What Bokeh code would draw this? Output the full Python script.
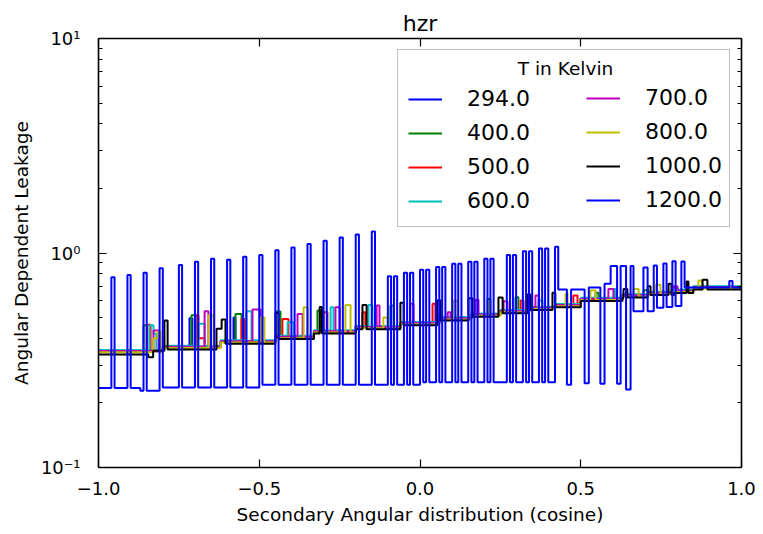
from bokeh.plotting import figure
from bokeh.models import (Range1d, FixedTicker, LogAxis, LinearAxis, Legend,
                          LegendItem, Label, CustomJSTickFormatter)
from bokeh.embed import file_html
from bokeh.resources import INLINE

FONT = "DejaVu Sans"

# ---------------- data ----------------
temps = ["294.0", "400.0", "500.0", "600.0", "700.0", "800.0", "1000.0", "1200.0"]
colors = ["#0000ff", "#008000", "#ff0000", "#00bfbf", "#bf00bf", "#bfbf00", "#000000", "#0000ff"]
# small vertical offset of each series' floor relative to the common floor
floor_scale = [1.0, 1.008, 1.0, 1.015, 1.004, 0.99, 0.98, 1.0]

x_ticks = [-1.0, -0.5, 0.0, 0.5, 1.0]
x_tick_labels = ["\u22121.0", "\u22120.5", "0.0", "0.5", "1.0"]
y_ticks = [0.1, 1.0, 10.0]
y_tick_labels = ["10\u207b\u00b9", "10\u2070", "10\u00b9"]
y_minor_ticks = [0.2, 0.3, 0.4, 0.5, 0.6, 0.7, 0.8, 0.9, 2, 3, 4, 5, 6, 7, 8, 9]

# common floor of the smooth series (step starts, levels)
floor_x = [-1.0, -0.80, -0.62, -0.45, -0.33, -0.20, -0.06, 0.06, 0.16, 0.25,
           0.34, 0.42, 0.50, 0.63, 0.71, 0.79, 0.85]
floor_y = [0.348, 0.364, 0.386, 0.405, 0.43, 0.45, 0.47, 0.495, 0.515, 0.535,
           0.553, 0.57, 0.61, 0.633, 0.65, 0.665, 0.69]

# local bumps (x from, x to, level) of each temperature
bumps_294 = [(-0.717, -0.708, 0.496), (-0.580, -0.574, 0.50)]
bumps_400 = [(-0.860, -0.850, 0.46), (-0.711, -0.698, 0.512), (-0.574, -0.555, 0.52),
             (-0.449, -0.434, 0.534), (-0.319, -0.309, 0.54), (-0.092, -0.082, 0.569),
             (0.210, 0.219, 0.611), (0.297, 0.306, 0.622), (0.546, 0.555, 0.652),
             (0.695, 0.708, 0.67)]
bumps_500 = [(-0.848, -0.838, 0.463), (-0.698, -0.689, 0.512), (-0.689, -0.670, 0.40),
             (-0.555, -0.546, 0.493), (-0.428, -0.409, 0.493), (-0.300, -0.288, 0.53),
             (-0.179, -0.170, 0.53), (0.039, 0.048, 0.58), (0.313, 0.322, 0.60),
             (0.477, 0.490, 0.633), (0.785, 0.800, 0.69)]
bumps_600 = [(-0.841, -0.829, 0.46), (-0.829, -0.820, 0.42), (-0.689, -0.670, 0.468),
             (-0.540, -0.524, 0.535), (-0.412, -0.393, 0.476), (-0.278, -0.269, 0.559),
             (-0.160, -0.148, 0.573), (0.369, 0.381, 0.60), (0.602, 0.608, 0.68)]
bumps_700 = [(-0.829, -0.813, 0.435), (-0.670, -0.658, 0.535), (-0.521, -0.496, 0.545),
             (-0.381, -0.365, 0.52), (-0.263, -0.250, 0.559), (-0.135, -0.126, 0.569),
             (-0.030, -0.020, 0.58), (0.086, 0.095, 0.53), (0.173, 0.182, 0.605),
             (0.260, 0.272, 0.596), (0.359, 0.369, 0.633), (0.586, 0.602, 0.68),
             (0.785, 0.801, 0.70)]
bumps_800 = [(-0.829, -0.816, 0.40), (-0.816, -0.807, 0.43), (-0.658, -0.642, 0.512),
             (-0.496, -0.484, 0.50), (-0.362, -0.350, 0.559), (-0.232, -0.216, 0.573),
             (-0.114, -0.101, 0.50), (0.104, 0.117, 0.60), (0.210, 0.219, 0.59),
             (0.453, 0.459, 0.645), (0.530, 0.546, 0.668), (0.664, 0.680, 0.68),
             (0.733, 0.748, 0.711), (0.866, 0.877, 0.744)]
bumps_1000 = [(-1.0, -0.845, 0.336), (-0.845, -0.830, 0.327), (-0.830, -0.795, 0.35),
              (-0.795, -0.785, 0.485), (-0.785, -0.633, 0.355), (-0.633, -0.617, 0.443),
              (-0.617, -0.605, 0.49), (-0.605, -0.45, 0.377), (-0.449, -0.440, 0.525),
              (-0.312, -0.305, 0.56), (-0.179, -0.166, 0.573), (-0.061, -0.051, 0.586),
              (0.054, 0.064, 0.60), (0.151, 0.163, 0.616), (0.244, 0.257, 0.62),
              (0.334, 0.344, 0.64), (0.412, 0.421, 0.652), (0.633, 0.645, 0.68),
              (0.708, 0.717, 0.70), (0.773, 0.782, 0.718), (0.829, 0.835, 0.736),
              (0.879, 0.894, 0.75)]

# 1200 K: oscillating series, own floor (step starts, levels)
b1200_floor_x = [-1.0, -0.87, -0.80, -0.50, 0.0, 0.43, 0.457, 0.47, 0.512, 0.525,
                 0.561, 0.574, 0.593, 0.613, 0.624, 0.641, 0.655, 0.664, 0.695, 0.708,
                 0.727, 0.737, 0.757, 0.767, 0.785, 0.795, 0.813, 0.823, 0.962, 0.972]
b1200_floor_y = [0.235, 0.228, 0.236, 0.243, 0.25, 0.676, 0.243, 0.676, 0.247, 0.69,
                 0.246, 0.718, 0.87, 0.246, 0.87, 0.231, 0.87, 0.535, 0.856, 0.535,
                 0.874, 0.556, 0.893, 0.56, 0.916, 0.566, 0.913, 0.69, 0.74, 0.69]
# single spikes: left edge, top
b1200_single_x = [-0.96, -0.91, -0.86, -0.81, -0.75, -0.70, -0.65, -0.60, -0.55, -0.50,
                  -0.45, -0.40, -0.35, -0.30, -0.25, -0.20, -0.15, 0.42]
b1200_single_y = [0.77, 0.79, 0.81, 0.85, 0.88, 0.91, 0.94, 0.93, 0.96, 0.98,
                  1.03, 1.06, 1.10, 1.14, 1.18, 1.22, 1.26, 1.07]
# double spikes: left edge of the first, top
b1200_pair_x = [-0.10, -0.05, 0.00, 0.05, 0.10, 0.15, 0.20, 0.27, 0.32, 0.37]
b1200_pair_y = [0.78, 0.81, 0.835, 0.86, 0.89, 0.91, 0.94, 0.98, 1.02, 1.05]
spike_width = 0.01
pair_gap = 0.019


def build(fx, fy, over, scale=1.0):
    pts = sorted(set(fx + [o[0] for o in over] + [o[1] for o in over] + [1.0]))
    xs, ys = [], []
    for a in pts[:-1]:
        v = None
        for (l, r, val) in over:
            if l <= a + 1e-9 and a < r - 1e-9:
                v = val
        if v is None:
            i = max(k for k, e in enumerate(fx) if e <= a + 1e-9)
            v = fy[i] * scale
        xs.append(a)
        ys.append(v)
    xs.append(1.0)
    ys.append(ys[-1])
    return xs, ys


spikes_1200 = [(x, x + spike_width, y) for x, y in zip(b1200_single_x, b1200_single_y)]
for x, y in zip(b1200_pair_x, b1200_pair_y):
    spikes_1200.append((x, x + spike_width, y))
    spikes_1200.append((x + pair_gap, x + pair_gap + spike_width, y))

all_bumps = [bumps_294, bumps_400, bumps_500, bumps_600, bumps_700, bumps_800, bumps_1000]
series = [build(floor_x, floor_y, b, s) for b, s in zip(all_bumps, floor_scale)]
series.append(build(b1200_floor_x, b1200_floor_y, spikes_1200))

# ---------------- figure ----------------
p = figure(width=763, height=534, x_range=Range1d(-1, 1), y_range=Range1d(0.1, 10),
           y_axis_type="log", title="hzr", output_backend="svg", toolbar_location=None,
           min_border_left=98, min_border_right=22, min_border_top=38, min_border_bottom=67)
p.background_fill_color = "white"
p.border_fill_color = "white"
p.outline_line_color = None
p.xgrid.visible = False
p.ygrid.visible = False

p.title.text_font = FONT
p.title.text_font_size = "22px"
p.title.text_font_style = "normal"
p.title.text_color = "black"
p.title.align = "center"
p.title.standoff = 6

JS = """
for (let i = 0; i < tvals.length; i++) {
  if (Math.abs(tvals[i] - tick) <= 1e-6 * Math.max(1e-3, Math.abs(tvals[i]))) return tlabels[i];
}
return "";
"""


def fmt(tv, tl):
    return CustomJSTickFormatter(args=dict(tvals=tv, tlabels=tl), code=JS)


def style_axis(ax, show):
    ax.axis_line_width = 1.6
    ax.axis_line_color = "black"
    ax.major_tick_in = 8
    ax.major_tick_out = 0
    ax.minor_tick_in = 4
    ax.minor_tick_out = 0
    ax.major_tick_line_width = 1.2
    ax.minor_tick_line_width = 1.0
    ax.major_label_text_font = FONT
    ax.major_label_text_color = "black"
    ax.axis_label_text_font = FONT
    ax.axis_label_text_font_style = "normal"
    ax.axis_label_text_font_size = "18.5px"
    ax.axis_label_text_color = "black"
    if show:
        ax.major_label_text_font_size = "18px"
    else:
        ax.major_label_text_font_size = "0px"
        ax.major_label_standoff = 0


xax = p.xaxis[0]
xax.ticker = FixedTicker(ticks=x_ticks, minor_ticks=[])
xax.formatter = fmt(x_ticks, x_tick_labels)
xax.axis_label = "Secondary Angular distribution (cosine)"
style_axis(xax, True)
xax.major_label_standoff = 14
xax.axis_label_standoff = 6

yax = p.yaxis[0]
yax.ticker = FixedTicker(ticks=y_ticks, minor_ticks=y_minor_ticks)
yax.formatter = fmt(y_ticks, y_tick_labels)
yax.axis_label = "Angular Dependent Leakage"
style_axis(yax, True)
yax.major_label_standoff = 18
yax.axis_label_standoff = 6

rax = LogAxis(ticker=FixedTicker(ticks=y_ticks, minor_ticks=y_minor_ticks),
              formatter=fmt(y_ticks, ["", "", ""]))
style_axis(rax, False)
p.add_layout(rax, "right")

tax = LinearAxis(ticker=FixedTicker(ticks=x_ticks, minor_ticks=[]),
                 formatter=fmt(x_ticks, ["", "", "", "", ""]))
style_axis(tax, False)
p.add_layout(tax, "above")

renderers = []
for (xs, ys), c in zip(series, colors):
    r = p.step(xs, ys, mode="after", line_color=c, line_width=2.0)
    renderers.append(r)

common = dict(location="top_right", title=" ",
              title_text_font=FONT, title_text_font_size="18.5px",
              label_text_font=FONT, label_text_font_size="22px",
              label_text_color="black",
              glyph_width=34, glyph_height=20, label_standoff=25,
              label_height=31, spacing=3, background_fill_alpha=0.0)

# first column (with the frame of the whole legend box)
legend_a = Legend(items=[LegendItem(label=temps[i], renderers=[renderers[i]]) for i in range(4)],
                  title_standoff=2, label_width=252, padding=10, margin=11,
                  border_line_color="#808080", border_line_width=1.5, **common)
# second column (no frame)
legend_b = Legend(items=[LegendItem(label=temps[i], renderers=[renderers[i]]) for i in range(4, 8)],
                  title_standoff=8, label_width=81, padding=8, margin=7,
                  border_line_alpha=0.0, **common)
p.add_layout(legend_a)
p.add_layout(legend_b)

p.add_layout(Label(x=0.4526, y=7.25, text="T in Kelvin", text_align="center",
                   text_baseline="middle", text_font=FONT, text_font_size="18.5px",
                   text_color="black", level="overlay"))

open("out.html", "w").write(file_html(p, INLINE))
